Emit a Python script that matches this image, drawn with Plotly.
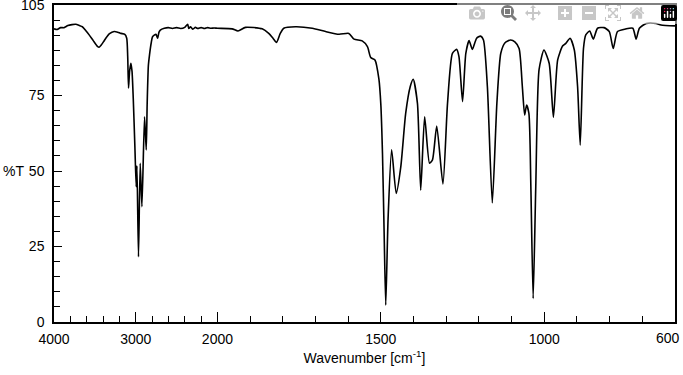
import plotly.graph_objects as go

wavenumber = [4000, 3960, 3920, 3877, 3830, 3780, 3734, 3690, 3653, 3610, 3570, 3520, 3469, 3448, 3420, 3390,
              3366, 3320, 3264, 3220, 3182, 3133, 3110, 3098, 3088, 3075, 3059, 3045, 3030, 3010, 2994, 2985,
              2966, 2945, 2924, 2892, 2871, 2860, 2845, 2831, 2810, 2794, 2752, 2732, 2715, 2699, 2650, 2600,
              2550, 2500, 2450, 2400, 2364, 2350, 2330, 2300, 2270, 2240, 2200, 2160, 2120, 2080, 2040, 2000,
              1955, 1937, 1914, 1863, 1843, 1830, 1819, 1808, 1797, 1761, 1710, 1669, 1628, 1598, 1582, 1557,
              1541, 1531, 1518, 1506, 1500, 1495, 1490, 1485, 1478, 1467, 1453, 1439, 1424, 1410, 1401, 1388,
              1378, 1366, 1351, 1342, 1329, 1310, 1296, 1281, 1268, 1261, 1250, 1240, 1230, 1220, 1207, 1195,
              1186, 1174, 1159, 1145, 1133, 1120, 1103, 1090, 1077, 1067, 1060, 1054, 1047, 1041, 1034, 1026,
              1016, 1001, 985, 972, 959, 944, 934, 921, 908, 898, 890, 880, 873, 861, 850, 837,
              817, 801, 789, 776, 750, 729, 719, 709, 688, 658, 643, 600]
transmittance = [97.1, 96.9, 97.5, 97.5, 98.2, 98.5, 98.6, 98.2, 97.8, 96.5, 95.1, 93.2, 91.3, 91.0, 91.8, 93.0,
                 94.0, 95.5, 96.2, 96.0, 95.6, 95.3, 94.0, 88.0, 77.5, 83.0, 85.7, 83.0, 74.0, 58.0, 44.8, 51.7,
                 21.6, 52.6, 38.2, 68.0, 57.0, 72.0, 85.0, 88.5, 92.5, 94.5, 95.3, 94.0, 96.0, 96.7, 97.3, 97.5,
                 97.2, 97.5, 97.2, 97.6, 98.6, 97.2, 97.8, 97.0, 97.6, 97.2, 97.5, 97.2, 97.5, 97.3, 97.4, 97.3,
                 97.1, 96.4, 97.6, 97.1, 95.6, 94.0, 92.6, 95.5, 97.3, 97.8, 97.3, 96.2, 95.3, 95.6, 93.7, 93.1,
                 91.2, 87.6, 86.8, 80.5, 72.0, 55.9, 30.0, 5.6, 33.8, 57.0, 42.6, 51.4, 69.1, 78.0, 80.4, 72.4,
                 43.7, 68.0, 52.6, 53.7, 64.9, 45.7, 72.4, 89.0, 90.3, 87.9, 73.0, 89.0, 93.2, 90.3, 94.0, 94.7,
                 93.4, 77.9, 39.5, 72.4, 89.0, 92.5, 93.4, 92.8, 90.6, 77.9, 68.6, 71.9, 69.1, 44.8, 7.8, 44.8,
                 83.5, 90.1, 85.7, 67.8, 86.8, 91.4, 92.3, 94.0, 90.1, 77.9, 58.6, 90.6, 95.1, 96.4, 93.7, 97.3,
                 97.5, 96.2, 90.6, 96.2, 97.1, 97.3, 93.7, 97.3, 98.9, 98.9, 98.4, 98.1]

x_tick_wn = [4000, 3000, 2000, 1500, 1000]
x_end_label = "600"
x_minor_wn = [3800, 3600, 3400, 3200, 2800, 2600, 2400, 2200,
              1900, 1800, 1700, 1600, 1400, 1300, 1200, 1100, 900, 800, 700]
y_tick_vals = [0, 25, 50, 75, 105]
y_minor_vals = list(range(5, 105, 5))


def to_disp(w):
    # x axis is compressed 4x between 4000 and 2000 cm-1
    return (4000 - w) / 4 if w >= 2000 else 500 + (2000 - w)


xd = [to_disp(w) for w in wavenumber]

fig = go.Figure()
fig.add_trace(go.Scatter(x=xd, y=transmittance, mode="lines",
                         line=dict(color="black", width=1.6, shape="spline", smoothing=0.6),
                         hoverinfo="skip", showlegend=False))

font = dict(family="Liberation Sans, Arial, sans-serif", size=14, color="black")

fig.update_layout(
    width=683, height=375,
    margin=dict(l=54, r=8, t=5, b=53),
    paper_bgcolor="white", plot_bgcolor="white",
    font=font,
    xaxis=dict(range=[0, 1900], showgrid=False, zeroline=False, automargin=False,
               showline=True, linecolor="black", linewidth=1.5, mirror=True,
               tickmode="array", tickvals=[to_disp(w) for w in x_tick_wn],
               ticktext=[str(w) for w in x_tick_wn],
               ticks="inside", ticklen=10, tickwidth=1.2, tickcolor="black",
               ticklabeloverflow="allow", ticklabelstandoff=3,
               minor=dict(tickmode="array", tickvals=[to_disp(w) for w in x_minor_wn],
                          ticks="inside", ticklen=6, tickwidth=1.2, tickcolor="black"),
               title=dict(text="Wavenumber [cm<sup>-1</sup>]", font=font, standoff=8),
               tickfont=font),
    yaxis=dict(range=[0, 105], showgrid=False, zeroline=False, automargin=False,
               showline=True, linecolor="black", linewidth=1.5, mirror=True,
               tickmode="array", tickvals=y_tick_vals, ticktext=[str(v) for v in y_tick_vals],
               ticks="inside", ticklen=8, tickwidth=1.2, tickcolor="black",
               ticklabeloverflow="allow", ticklabelstandoff=5,
               minor=dict(tickmode="array", tickvals=y_minor_vals,
                          ticks="inside", ticklen=6, tickwidth=1.2, tickcolor="black"),
               tickfont=font),
    annotations=[
        dict(text="%T", x=-0.066, y=50 / 105, xref="paper", yref="paper",
             xanchor="center", yanchor="middle", showarrow=False, font=font),
        dict(text=x_end_label, x=1, y=0, xref="paper", yref="paper",
             xanchor="right", yanchor="top", xshift=7, yshift=-6,
             showarrow=False, font=font),
    ],
)

# remove the browser's default 8px body margin so the figure sits at the page corner
fig.write_html("out.html", post_script="document.body.style.margin='0';")
